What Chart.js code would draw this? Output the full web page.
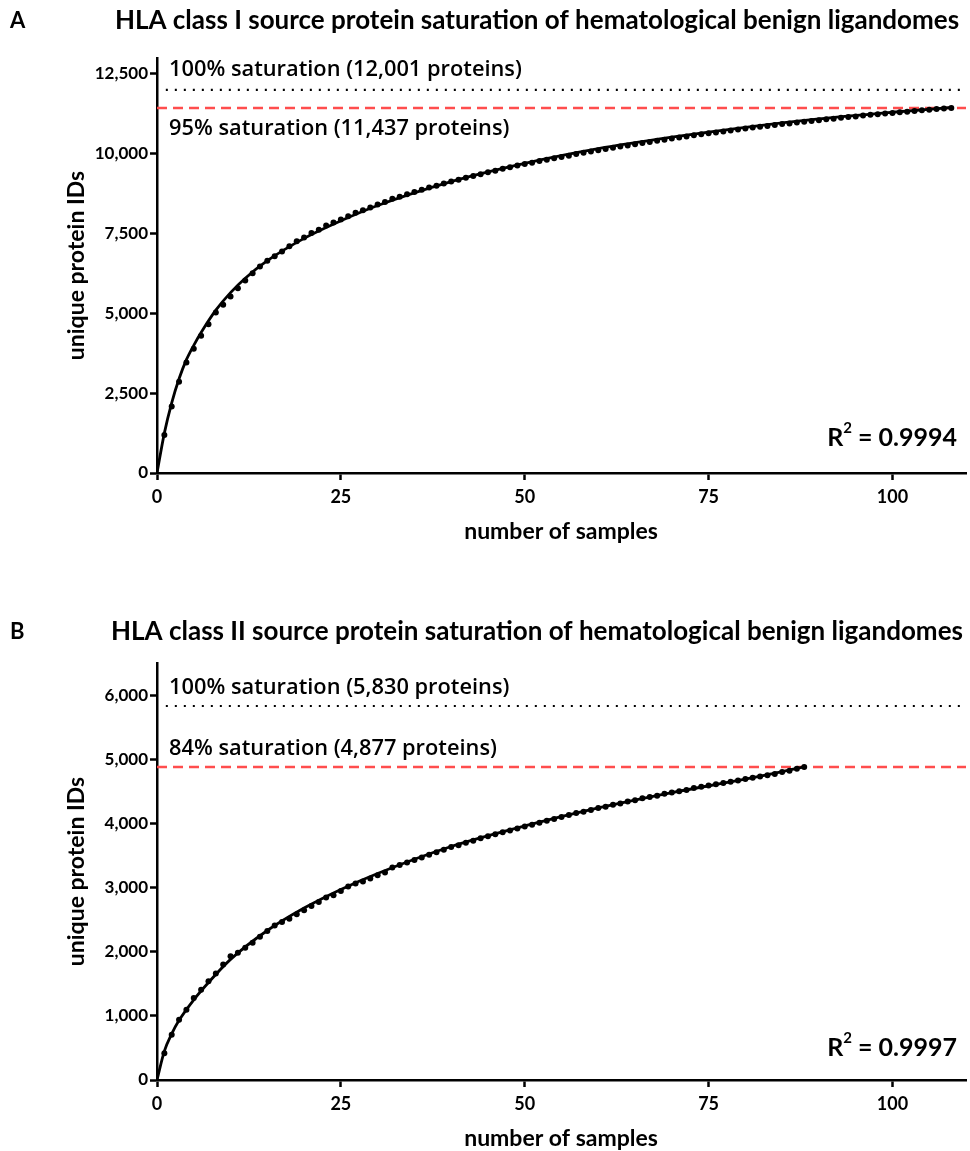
<!DOCTYPE html>
<html>
<head>
<meta charset="utf-8">
<title>HLA source protein saturation</title>
<script src="https://cdn.jsdelivr.net/npm/chart.js@4.4.1/dist/chart.umd.min.js"></script>
<style>
  html, body { margin: 0; padding: 0; background: #fff; }
  #wrap { position: relative; width: 970px; height: 1151px; }
  .panel { position: absolute; left: 0; width: 970px; }
  #panelA { top: 0; height: 560px; }
  #panelB { top: 600px; height: 551px; }
</style>
</head>
<body>
<div id="wrap">
  <div class="panel" id="panelA"><canvas id="chartA" width="970" height="560"></canvas></div>
  <div class="panel" id="panelB"><canvas id="chartB" width="970" height="551"></canvas></div>
</div>
<script>
// ---- Panel A: HLA class I ----
const samplesA = [];
for (let i = 1; i <= 108; i++) samplesA.push(i);
const proteinsA = [
  1190, 2080, 2860, 3460, 3890, 4300, 4660, 5030, 5270, 5530,
  5790, 6030, 6260, 6470, 6650, 6790, 6940, 7100, 7260, 7380,
  7520, 7620, 7750, 7850, 7940, 8040, 8150, 8230, 8320, 8410,
  8490, 8590, 8650, 8730, 8800, 8870, 8940, 9000, 9070, 9130,
  9190, 9250, 9300, 9360, 9420, 9470, 9530, 9580, 9630, 9680,
  9720, 9770, 9810, 9860, 9900, 9940, 9990, 10030, 10070, 10110,
  10150, 10190, 10230, 10260, 10300, 10340, 10370, 10410, 10440, 10480,
  10510, 10540, 10580, 10610, 10640, 10670, 10700, 10730, 10760, 10790,
  10820, 10850, 10870, 10900, 10930, 10950, 10980, 11000, 11030, 11050,
  11080, 11100, 11130, 11150, 11170, 11200, 11220, 11240, 11260, 11280,
  11300, 11320, 11340, 11360, 11380, 11400, 11420, 11437
];
// fitted saturation curve, read at selected sample counts
const fitXA = [0, 1, 2, 3, 4, 5, 6, 8, 10, 12, 15, 20, 25, 30, 40, 50, 60, 70, 80, 90, 100, 108];
const fitYA = [0, 1250, 2200, 2950, 3550, 4000, 4400, 5100, 5650, 6100, 6650, 7350, 7900, 8380, 9130, 9700, 10160, 10520, 10830, 11090, 11300, 11450];
const totalA = 12001;
const observedA = 11437;
const yTicksA = [0, 2500, 5000, 7500, 10000, 12500];

// ---- Panel B: HLA class II ----
const samplesB = [];
for (let i = 1; i <= 88; i++) samplesB.push(i);
const proteinsB = [
  417, 704, 939, 1095, 1278, 1408, 1539, 1659, 1800, 1930,
  1983, 2061, 2139, 2233, 2321, 2410, 2462, 2515, 2582, 2645,
  2712, 2775, 2843, 2880, 2947, 3016, 3063, 3094, 3141, 3192,
  3234, 3313, 3350, 3390, 3430, 3470, 3510, 3550, 3590, 3630,
  3660, 3700, 3730, 3770, 3800, 3830, 3860, 3890, 3920, 3950,
  3980, 4010, 4040, 4070, 4100, 4130, 4160, 4180, 4210, 4240,
  4260, 4290, 4310, 4340, 4360, 4390, 4410, 4430, 4460, 4480,
  4500, 4520, 4550, 4570, 4590, 4610, 4630, 4650, 4670, 4690,
  4710, 4730, 4750, 4770, 4800, 4820, 4850, 4877
];
const fitXB = [0, 1, 2, 3, 5, 7, 10, 15, 20, 25, 30, 40, 50, 60, 70, 80, 88];
const fitYB = [0, 450, 720, 930, 1250, 1520, 1880, 2330, 2680, 2970, 3220, 3640, 3960, 4240, 4480, 4690, 4880];
const totalB = 5830;
const observedB = 4877;
const yTicksB = [0, 1000, 2000, 3000, 4000, 5000, 6000];

const xTicks = [0, 25, 50, 75, 100];

const FONT = 'Lato, "Open Sans", sans-serif';
const RED = '#ff4d4d';

function pts(xs, ys) { return xs.map((x, i) => ({ x: x, y: ys[i] })); }

function makeChart(id, cfg) {
  const ctx = document.getElementById(id);
  const annot = {
    id: 'panelText',
    afterDraw(chart) {
      const c = chart.ctx;
      const ys = chart.scales.y;
      const area = chart.chartArea;
      c.save();
      c.fillStyle = '#000';
      c.textBaseline = 'middle';
      // panel letter and title
      c.font = 'bold 22px ' + FONT;
      c.textAlign = 'left';
      c.fillText(cfg.letter, 10, cfg.titleY);
      c.font = 'bold 26px ' + FONT;
      c.textAlign = 'center';
      c.fillText(cfg.title, 537, cfg.titleY);
      // axis titles
      c.font = 'bold 23px ' + FONT;
      c.fillText('number of samples', 561, area.bottom + 59);
      c.save();
      c.translate(77, (area.top + area.bottom) / 2);
      c.rotate(-Math.PI / 2);
      c.font = 'bold 23px ' + FONT;
      c.fillText('unique protein IDs', 0, 0);
      c.restore();
      // saturation labels
      c.textAlign = 'left';
      c.font = '600 21.8px "Open Sans", sans-serif';
      const yTot = ys.getPixelForValue(cfg.total);
      const yObs = ys.getPixelForValue(cfg.observed);
      c.fillText(cfg.totalLabel, 169, yTot - cfg.totalOffset);
      c.fillText(cfg.obsLabel, 169, yObs + cfg.obsOffset);
      // goodness of fit
      c.font = 'bold 25px ' + FONT;
      c.textAlign = 'right';
      const rx = 957, ry = area.bottom - cfg.r2Offset;
      const numTxt = ' = ' + cfg.r2;
      const numW = c.measureText(numTxt).width;
      c.fillText(numTxt, rx, ry);
      c.font = 'bold 15px ' + FONT;
      const supW = c.measureText('2').width;
      c.fillText('2', rx - numW, ry - 10);
      c.font = 'bold 25px ' + FONT;
      c.fillText('R', rx - numW - supW, ry);
      c.restore();
    }
  };
  return new Chart(ctx, {
    type: 'scatter',
    data: {
      datasets: [
        {
          label: 'fit',
          data: pts(cfg.fitX, cfg.fitY),
          showLine: true,
          cubicInterpolationMode: 'monotone',
          borderColor: '#000',
          borderWidth: 2.8,
          pointRadius: 0,
          order: 2
        },
        {
          label: 'samples',
          data: pts(cfg.sx, cfg.sy),
          showLine: false,
          pointRadius: 3,
          pointBackgroundColor: '#000',
          pointBorderWidth: 0,
          order: 1
        },
        {
          label: 'total',
          data: [{ x: 1.2, y: cfg.total }, { x: 110, y: cfg.total }],
          showLine: true,
          borderColor: '#000',
          borderWidth: 2.2,
          borderDash: [2, 7],
          borderCapStyle: 'butt',
          pointRadius: 0,
          order: 3
        },
        {
          label: 'observed',
          data: [{ x: 0, y: cfg.observed }, { x: 110, y: cfg.observed }],
          showLine: true,
          borderColor: RED,
          borderWidth: 2.5,
          borderDash: [10, 6],
          pointRadius: 0,
          order: 4
        }
      ]
    },
    options: {
      responsive: false,
      animation: false,
      events: [],
      layout: { padding: { left: 0, right: 4, top: cfg.top, bottom: 0 } },
      plugins: { legend: { display: false }, tooltip: { enabled: false } },
      scales: {
        x: {
          type: 'linear',
          min: 0, max: 110,
          afterFit(s) { s.height = cfg.xHeight; },
          afterBuildTicks(s) { s.ticks = xTicks.map(v => ({ value: v })); },
          border: { display: true, color: '#000', width: 2.5 },
          grid: { drawOnChartArea: false, drawTicks: true, tickLength: 7, tickWidth: 2.5, tickColor: '#000' },
          ticks: { color: '#000', padding: 6, font: { family: FONT, size: 18, weight: 'bold' }, maxRotation: 0 }
        },
        y: {
          type: 'linear',
          min: 0, max: cfg.yMax,
          afterFit(s) { s.width = 157; },
          afterBuildTicks(s) { s.ticks = cfg.yTicks.map(v => ({ value: v })); },
          border: { display: true, color: '#000', width: 2.5 },
          grid: { drawOnChartArea: false, drawTicks: true, tickLength: 7, tickWidth: 2.5, tickColor: '#000' },
          ticks: {
            color: '#000', padding: 2,
            font: { family: FONT, size: 17, weight: 'bold' },
            callback: v => v.toLocaleString('en-US')
          }
        }
      }
    },
    plugins: [annot]
  });
}

makeChart('chartA', {
  letter: 'A',
  title: 'HLA class I source protein saturation of hematological benign ligandomes',
  titleY: 21,
  sx: samplesA, sy: proteinsA, fitX: fitXA, fitY: fitYA,
  total: totalA, observed: observedA,
  totalLabel: '100% saturation (12,001 proteins)',
  obsLabel: '95% saturation (11,437 proteins)',
  totalOffset: 20, obsOffset: 21,
  r2: '0.9994', r2Offset: 35,
  yMax: 13000, yTicks: yTicksA,
  top: 58, xHeight: 87
});

makeChart('chartB', {
  letter: 'B',
  title: 'HLA class II source protein saturation of hematological benign ligandomes',
  titleY: 32,
  sx: samplesB, sy: proteinsB, fitX: fitXB, fitY: fitYB,
  total: totalB, observed: observedB,
  totalLabel: '100% saturation (5,830 proteins)',
  obsLabel: '84% saturation (4,877 proteins)',
  totalOffset: 18, obsOffset: -18,
  r2: '0.9997', r2Offset: 32,
  yMax: 6500, yTicks: yTicksB,
  top: 63, xHeight: 71
});
</script>
</body>
</html>
